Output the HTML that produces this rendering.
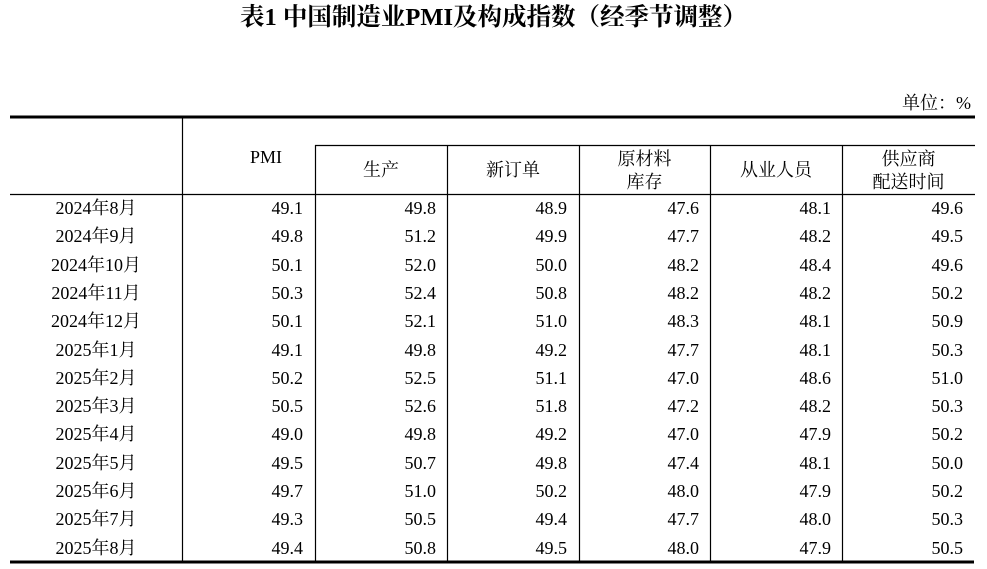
<!DOCTYPE html>
<html><head><meta charset="utf-8"><style>
body{margin:0;width:987px;height:569px;background:#fff;position:relative;overflow:hidden;font-family:"Liberation Serif","Noto Serif CJK SC",serif;color:#000}
.t{position:absolute;white-space:nowrap;font-size:18px;line-height:20px}
.r{text-align:right}
.c{text-align:center}
</style></head><body>
<div class="t c" style="left:0;width:987px;top:4px;font-size:24.5px;font-weight:bold;line-height:28px">表1 中国制造业PMI及构成指数（经季节调整）</div>
<div class="t" style="right:16px;top:93px">单位：%</div>
<svg width="987" height="569" style="position:absolute;left:0;top:0">
<rect x="10" y="115.5" width="965" height="3" fill="#000"/>
<rect x="10" y="560.5" width="964" height="3" fill="#000"/>
<g stroke="#000" stroke-width="1.2">
<line x1="315" y1="145.5" x2="975" y2="145.5"/>
<line x1="10" y1="194.5" x2="975" y2="194.5"/>
<line x1="182.5" y1="118" x2="182.5" y2="561"/>
<line x1="315.5" y1="145" x2="315.5" y2="561"/>
<line x1="447.5" y1="145" x2="447.5" y2="561"/>
<line x1="579.5" y1="145" x2="579.5" y2="561"/>
<line x1="710.5" y1="145" x2="710.5" y2="561"/>
<line x1="842.5" y1="145" x2="842.5" y2="561"/>
</g></svg>
<div class="t c" style="left:200px;width:132px;top:147px">PMI</div>
<div class="t c" style="left:315px;width:132px;top:160px">生产</div>
<div class="t c" style="left:447px;width:132px;top:160px">新订单</div>
<div class="t c" style="left:579px;width:131px;top:148px;line-height:23px">原材料<br>库存</div>
<div class="t c" style="left:710px;width:132px;top:160px">从业人员</div>
<div class="t c" style="left:842px;width:133px;top:148px;line-height:23px">供应商<br>配送时间</div>
<div id="rows"></div>
<script>
var d=[["2024年8月","49.1","49.8","48.9","47.6","48.1","49.6"],["2024年9月","49.8","51.2","49.9","47.7","48.2","49.5"],["2024年10月","50.1","52.0","50.0","48.2","48.4","49.6"],["2024年11月","50.3","52.4","50.8","48.2","48.2","50.2"],["2024年12月","50.1","52.1","51.0","48.3","48.1","50.9"],["2025年1月","49.1","49.8","49.2","47.7","48.1","50.3"],["2025年2月","50.2","52.5","51.1","47.0","48.6","51.0"],["2025年3月","50.5","52.6","51.8","47.2","48.2","50.3"],["2025年4月","49.0","49.8","49.2","47.0","47.9","50.2"],["2025年5月","49.5","50.7","49.8","47.4","48.1","50.0"],["2025年6月","49.7","51.0","50.2","48.0","47.9","50.2"],["2025年7月","49.3","50.5","49.4","47.7","48.0","50.3"],["2025年8月","49.4","50.8","49.5","48.0","47.9","50.5"]];
var R=[303,436,567,699,831,963],h="";
d.forEach(function(r,i){var y=198+i*28.3;
h+='<div class="t c" style="left:10px;width:172px;top:'+y+'px">'+r[0]+'</div>';
for(var j=1;j<7;j++)h+='<div class="t r" style="left:'+(R[j-1]-100)+'px;width:100px;top:'+y+'px">'+r[j]+'</div>';});
document.getElementById('rows').innerHTML=h;
</script>
</body></html>
